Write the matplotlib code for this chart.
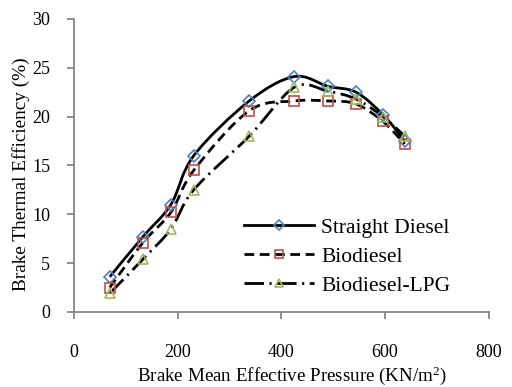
import numpy as np
import matplotlib
matplotlib.use("Agg")
import matplotlib.pyplot as plt
from matplotlib.path import Path
from matplotlib.patches import PathPatch
from matplotlib.lines import Line2D

plt.rcParams['font.family'] = ['Liberation Serif', 'DejaVu Serif']
plt.rcParams['mathtext.default'] = 'regular'
plt.rcParams['lines.scale_dashes'] = False

# data
bmep = [69, 133, 187, 231, 338, 425, 490, 544, 596, 638]
diesel = [3.6, 7.7, 11.0, 16.0, 21.6, 24.1, 23.1, 22.5, 20.2, 17.5]
biodiesel = [2.5, 7.1, 10.2, 14.5, 20.6, 21.6, 21.6, 21.3, 19.5, 17.2]
bio_lpg = [1.9, 5.4, 8.5, 12.5, 18.0, 23.0, 22.6, 21.8, 20.0, 18.0]

names = ['Straight Diesel', 'Biodiesel', 'Biodiesel-LPG']
series = [diesel, biodiesel, bio_lpg]
markers = ['D', 's', '^']
mcolors = ['#4F81BD', '#C0504D', '#9BBB59']
msizes = [6.5, 7.5, 7.5]
styles = ['-', (0, (7, 4)), (0, (14, 4, 1.5, 4))]

gray = '#868686'


def smooth_path(x, y):
    # Excel-like smoothed line: cubic bezier through each point
    p = np.column_stack([x, y]).astype(float)
    n = len(p)
    verts = [p[0]]
    codes = [Path.MOVETO]
    for i in range(n - 1):
        p0 = p[i - 1] if i > 0 else p[i]
        p3 = p[i + 2] if i + 2 < n else p[i + 1]
        c1 = p[i] + (p[i + 1] - p0) / 6
        c2 = p[i + 1] - (p3 - p[i]) / 6
        verts += [c1, c2, p[i + 1]]
        codes += [Path.CURVE4] * 3
    return Path(verts, codes)


fig = plt.figure(figsize=(5.12, 3.87), dpi=100)
ax = fig.add_axes([0.1445, 0.194, 0.81, 0.757])

handles = []
for vals, name, mk, mc, ms, ls in zip(series, names, markers, mcolors, msizes, styles):
    ax.add_patch(PathPatch(smooth_path(bmep, vals), fill=False, edgecolor='black',
                           linewidth=2.0, linestyle=ls, zorder=2))
    ax.plot(bmep, vals, linestyle='none', marker=mk, markersize=ms,
            markerfacecolor='none', markeredgecolor=mc, markeredgewidth=1.2, zorder=3)
    handles.append(Line2D([], [], color='black', linewidth=2.0, linestyle=ls,
                          marker=mk, markersize=ms - 1.5, markerfacecolor='none',
                          markeredgecolor=mc, markeredgewidth=1.2, label=name))

ax.set_xlim(0, 800)
ax.set_ylim(0, 30)
ax.set_xticks([0, 200, 400, 600, 800])
ax.set_yticks([0, 5, 10, 15, 20, 25, 30])
for s in ['top', 'right']:
    ax.spines[s].set_visible(False)
for s in ['left', 'bottom']:
    ax.spines[s].set_color(gray)
    ax.spines[s].set_linewidth(1.3)
ax.tick_params(axis='both', colors=gray, labelcolor='black', labelsize=13,
               length=5, width=1.3)
ax.tick_params(axis='x', pad=18)
ax.tick_params(axis='y', pad=12)

ax.set_xlabel('Brake Mean Effective Pressure (KN/m$^2$)', fontsize=13.7)
ax.set_ylabel('Brake Thermal Efficiency (%)', fontsize=13.9)
ax.xaxis.set_label_coords(0.525, -0.18)
ax.yaxis.set_label_coords(-0.105, 0.471)

ax.legend(handles=handles, loc='center left', bbox_to_anchor=(0.41, 0.188),
          frameon=False, fontsize=15.5, handlelength=3.25, numpoints=1,
          handletextpad=0.33, labelspacing=0.42, borderpad=0, borderaxespad=0)

fig.savefig('out.png', dpi=100)
